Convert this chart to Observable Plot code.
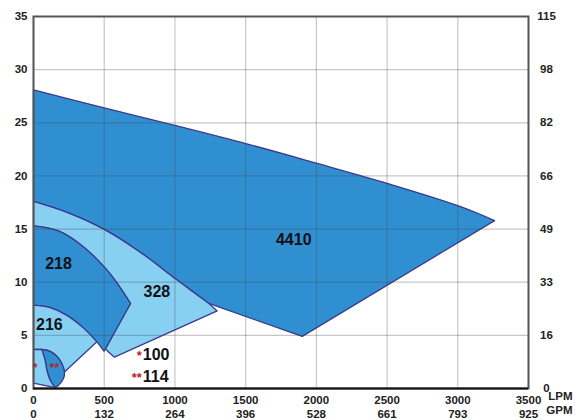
<!DOCTYPE html>
<html><head><meta charset="utf-8">
<script src="https://cdn.jsdelivr.net/npm/d3@7"></script>
<script src="https://cdn.jsdelivr.net/npm/@observablehq/plot@0.6"></script>
<style>
body{margin:0;background:#fff;}
svg{display:block;font-family:"Liberation Sans",Arial,sans-serif;}
</style>
</head><body><div id="chart"></div>
<script>
// axis ticks
const lpmTicks = [0,500,1000,1500,2000,2500,3000,3500];
const gpmLabels = ["0","132","264","396","528","661","793","925"];
const headTicks = [0,5,10,15,20,25,30,35];
const feetLabels = ["0","16","33","49","66","82","98","115"];

// region outlines, [LPM, head m]
const top4410 = [[0,28.1],[500,26.4],[1000,24.75],[1500,23.05],[2000,21.2],[2500,19.3],[3000,17.2],[3260,15.8]];
const low4410 = [[3260,15.8],[1900,4.9],[1240,8.0]];            // straight edges
const top328 = [[0,17.6],[250,16.5],[509,14.9],[757,12.8],[1016,10.2],[1240,8.0]];
const low328 = [[1240,8.0],[1299,7.3],[572,2.95],[508,3.72]];   // straight edges
const top218 = [[0,15.3],[180,14.8],[356,13.3],[509,11.3],[592,9.9],[686,8.0]];
const edge218 = [[686,8.0],[499,3.5]];
const top216 = [[0,7.84],[118,7.6],[236,6.88],[354,5.68],[448,4.39],[499,3.5]];
const edge216 = [[448,4.39],[219,1.55]];
const outerSmall = [[0,3.67],[59,3.67],[118,3.5],[165,3.03],[200,2.35],[219,1.55],[212,0.94],[177,0.31],[153,0.09]];
const inner114 = [[59,3.67],[82,2.66],[95,1.72],[118,0.78],[153,0.09]];
const base100 = [[153,0.09],[0,0.5]];

// labels
const regionNames = ["4410","328","218","216"];
const nameLPM = [1840,872,177,112];
const nameHead = [14.0,9.09,11.76,5.96];
const keyModels = ["100","114"];
const keyStars = ["*","**"];
const keyLPM = [773,773];
const keyHead = [3.13,1.06];
const shapeStars = ["*","**"];
const shapeStarLPM = [12,148];
const shapeStarHead = [2.0,2.0];

const rev = a => a.slice().reverse();
const upTo = (a, x) => a.filter(p => p[0] <= x);
// straight edges through a list of corners
const edges = a => a.slice(1).map((p, i) => [a[i], p]);
// join smooth pieces; piece ends become sharp corners (doubled vertices)
const outline = (...pieces) => {
  const out = [];
  for (const p of pieces) { out.push(p[0], ...p, p[p.length - 1]); }
  out.push(pieces[0][0], pieces[0][0]);
  return out;
};
const side = (a, b) => [a, b];

const poly4410 = outline(top4410, ...edges(low4410), rev(top328), side(top328[0], top4410[0]));
const poly328 = outline(top328, ...edges(low328), side(low328[3], edge218[0]), rev(top218), side(top218[0], top328[0]));
const poly218 = outline(top218, edge218, rev(top216), side(top216[0], top218[0]));
const poly216 = outline(upTo(top216, 448), edge216, rev(upTo(outerSmall, 219).slice(0, 6)), side(outerSmall[0], top216[0]));
const poly114 = outline(outerSmall.slice(1), rev(inner114));
const poly100 = outline(side(outerSmall[0], outerSmall[1]), inner114, base100, side(base100[1], outerSmall[0]));

const DARK = "#308fd1", LIGHT = "#88d0f2", EDGE = "#3b3a8c";
const shape = (p, fill) => Plot.line(p, {x: d => d[0], y: d => d[1], fill, stroke: EDGE, strokeWidth: 1.3, curve: "catmull-rom"});
const tickFont = {fontSize: 11.5, fontWeight: "bold", fill: "#222"};

const chart = Plot.plot({
  width: 586, height: 420,
  marginLeft: 33, marginRight: 58, marginTop: 16, marginBottom: 32,
  x: {domain: [0,3500], label: null},
  y: {domain: [0,35], label: null},
  style: {fontFamily: "'Liberation Sans', Arial, sans-serif", background: "#fff"},
  marks: [
    shape(poly4410, DARK),
    shape(poly328, LIGHT),
    shape(poly218, DARK),
    shape(poly216, LIGHT),
    shape(poly114, DARK),
    shape(poly100, LIGHT),
    Plot.gridX(lpmTicks, {stroke: "#444", strokeOpacity: 0.3, strokeWidth: 1.2}),
    Plot.gridY(headTicks, {stroke: "#444", strokeOpacity: 0.3, strokeWidth: 1.2}),
    Plot.frame({stroke: "#555", strokeWidth: 2}),
    Plot.ruleY([0], {stroke: "#111", strokeWidth: 2}),
    Plot.axisY(headTicks, {anchor: "left", tickSize: 0, tickPadding: 6, label: null, ...tickFont}),
    Plot.axisY(headTicks, {anchor: "right", tickSize: 0, tickPadding: 18, textAnchor: "middle", label: null,
      tickFormat: d => feetLabels[headTicks.indexOf(d)], ...tickFont}),
    Plot.axisX(lpmTicks, {anchor: "bottom", tickSize: 0, tickPadding: 7, label: null, tickFormat: d => String(d), ...tickFont}),
    Plot.axisX(lpmTicks, {anchor: "bottom", tickSize: 0, tickPadding: 21, label: null,
      tickFormat: d => gpmLabels[lpmTicks.indexOf(d)], ...tickFont}),
    Plot.text(["LPM"], {frameAnchor: "bottom-right", dx: 44, dy: 11, ...tickFont}),
    Plot.text(["GPM"], {frameAnchor: "bottom-right", dx: 44, dy: 25, ...tickFont}),
    Plot.text(regionNames, {x: (d,i) => nameLPM[i], y: (d,i) => nameHead[i], text: d => d, fontSize: 16, fontWeight: "bold", fill: "#111"}),
    Plot.text(keyModels, {x: (d,i) => keyLPM[i], y: (d,i) => keyHead[i], text: d => d, textAnchor: "start", fontSize: 16, fontWeight: "bold", fill: "#111"}),
    Plot.text(keyStars, {x: (d,i) => keyLPM[i], y: (d,i) => keyHead[i], text: d => d, textAnchor: "end", dx: -1, dy: 1, fontSize: 13, fontWeight: "bold", fill: "#b5272a"}),
    Plot.text(shapeStars, {x: (d,i) => shapeStarLPM[i], y: (d,i) => shapeStarHead[i], text: d => d, dy: 1, fontSize: 12, fontWeight: "bold", fill: "#b5272a"})
  ]
});
document.getElementById("chart").append(chart);
</script>
</body></html>
